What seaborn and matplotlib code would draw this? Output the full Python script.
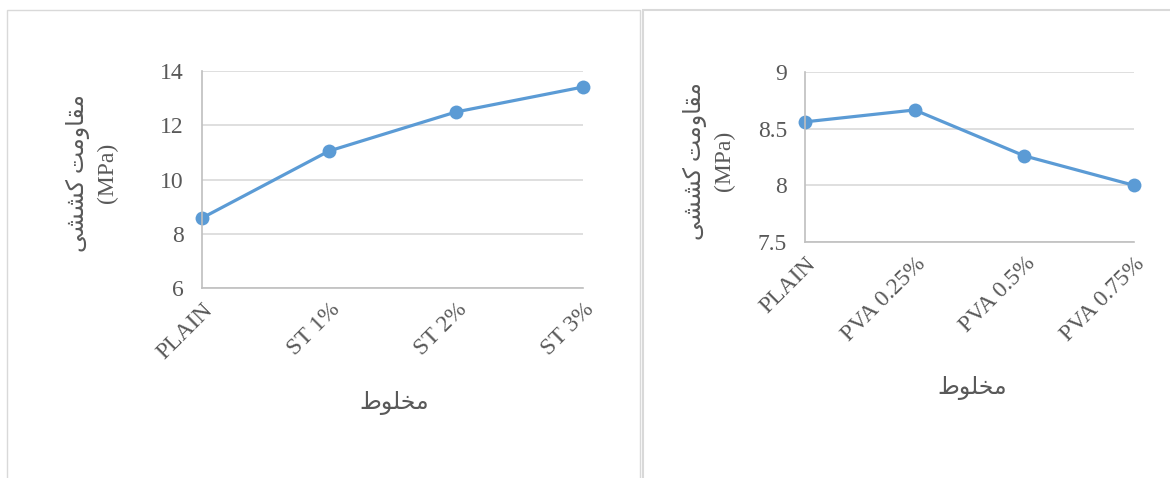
import pandas as pd
import seaborn as sns
import matplotlib.pyplot as plt
from matplotlib.patches import Rectangle

# data
st_mix = ["PLAIN", "ST 1%", "ST 2%", "ST 3%"]
st_strength = [8.58, 11.05, 12.49, 13.41]
pva_mix = ["PLAIN", "PVA 0.25%", "PVA 0.5%", "PVA 0.75%"]
pva_strength = [8.56, 8.665, 8.26, 8.0]
st_yticks = [6, 8, 10, 12, 14]
pva_yticks = [7.5, 8, 8.5, 9]

# Persian labels, pre-shaped (matplotlib has no bidi/shaping):
# "مقاومت کششی" and "مخلوط" in visual order with presentation forms
ylab_fa = "\uFBFD\uFEB8\uFEB8\uFB90 \uFE96\uFEE3\uFEED\uFE8E\uFED8\uFEE3"
xlab_fa = "\uFEC1\uFEEE\uFEE0\uFEA8\uFEE3"

sns.set_style("white")
plt.rcParams['font.family'] = ['Liberation Serif', 'DejaVu Sans']

gray_txt = "#595959"
grid_c = "#D9D9D9"
line_c = "#5B9BD5"

fig = plt.figure(figsize=(11.7, 4.78), dpi=100)
W, H = 1170, 478

# panel frames
fig.add_artist(Rectangle((7 / W, -0.05), (640 - 7) / W, 1 - 10 / H + 0.05,
                         transform=fig.transFigure, fill=False, ec=grid_c, lw=1))
fig.add_artist(Rectangle((643 / W, -0.05), 0.5, 1 - 10 / H + 0.05,
                         transform=fig.transFigure, fill=False, ec=grid_c, lw=1.5))


def panel(box, cats, vals, yticks, ylab_xy, xlab_xy):
    l, t, r, b = box
    ax = fig.add_axes([l / W, 1 - b / H, (r - l) / W, (b - t) / H])
    df = pd.DataFrame({"mix": cats, "val": vals})
    sns.lineplot(data=df, x="mix", y="val", ax=ax, color=line_c, lw=2.3,
                 marker="o", markersize=10, markeredgewidth=0, clip_on=False)
    ax.set_xlim(0, len(cats) - 1)
    ax.set_ylim(yticks[0], yticks[-1])
    ax.set_yticks(yticks)
    ax.set_yticklabels([f"{v:g}" for v in yticks])
    ax.yaxis.grid(True, color=grid_c, lw=1.2)
    ax.set_axisbelow(True)
    for s in ["top", "right"]:
        ax.spines[s].set_visible(False)
    for s in ["left", "bottom"]:
        ax.spines[s].set_color("#BFBFBF")
        ax.spines[s].set_linewidth(1.2)
    ax.tick_params(axis="y", length=5, color=grid_c, width=1.2, pad=8,
                   labelsize=17, labelcolor=gray_txt)
    ax.tick_params(axis="x", length=0, pad=8, labelsize=17, labelcolor=gray_txt)
    for lab in ax.get_xticklabels():
        lab.set_rotation(45)
        lab.set_ha("right")
        lab.set_va("top")
        lab.set_rotation_mode("anchor")
    ax.set_ylabel(ylab_fa + "\n(MPa)", fontsize=17, color=gray_txt,
                  rotation=90, ha="center", va="center", multialignment="center",
                  linespacing=1.45)
    ax.yaxis.set_label_coords(*ylab_xy)
    ax.set_xlabel(xlab_fa, fontsize=17, color=gray_txt, va="center")
    ax.xaxis.set_label_coords(*xlab_xy)
    return ax


panel((202, 71, 583, 288), st_mix, st_strength, st_yticks,
      (-0.289, 0.53), (0.504, -0.53))
panel((805, 72, 1134, 242), pva_mix, pva_strength, pva_yticks,
      (-0.292, 0.476), (0.508, -0.859))

fig.savefig("out.png", dpi=100)
